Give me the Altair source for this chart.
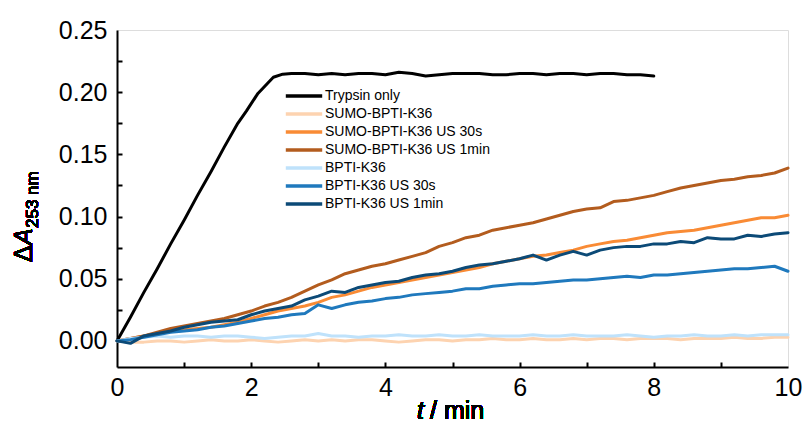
import altair as alt
import pandas as pd

series_names = [
    "Trypsin only",
    "SUMO-BPTI-K36",
    "SUMO-BPTI-K36 US 30s",
    "SUMO-BPTI-K36 US 1min",
    "BPTI-K36",
    "BPTI-K36 US 30s",
    "BPTI-K36 US 1min",
]
series_colors = ["#000000", "#fdd3b0", "#f98b35", "#b35c1e", "#bfe2fb", "#1f79bd", "#0c4a77"]

t_common = [round(0.2 * i, 1) for i in range(51)]

trypsin_t = [0.0, 0.2, 0.4, 0.6, 0.8, 1.0, 1.2, 1.4, 1.6, 1.8, 1.93, 2.1, 2.33, 2.47,
             2.6, 2.8, 3.0, 3.2, 3.4, 3.6, 3.8, 4.0, 4.2, 4.4, 4.6, 4.8, 5.0, 5.2,
             5.4, 5.6, 5.8, 6.0, 6.2, 6.4, 6.6, 6.8, 7.0, 7.2, 7.4, 7.6, 7.8, 8.0]
trypsin_v = [0.000, 0.019, 0.039, 0.058, 0.078, 0.097, 0.117, 0.136, 0.156, 0.175, 0.185, 0.199, 0.212, 0.2145,
             0.215, 0.215, 0.214, 0.215, 0.214, 0.215, 0.215, 0.214, 0.216, 0.215, 0.213, 0.214, 0.215, 0.215,
             0.215, 0.214, 0.214, 0.215, 0.215, 0.214, 0.215, 0.215, 0.214, 0.215, 0.215, 0.214, 0.214, 0.213]

sumo_v = [0.000, -0.001, -0.001, 0.000, 0.000, -0.001, 0.000, 0.001, 0.000, 0.000,
          0.001, 0.000, -0.001, 0.000, 0.001, 0.000, 0.001, 0.000, 0.001, 0.001,
          0.000, -0.001, 0.000, 0.001, 0.001, 0.000, 0.001, 0.001, 0.002, 0.001,
          0.001, 0.002, 0.001, 0.001, 0.002, 0.001, 0.002, 0.002, 0.001, 0.002,
          0.002, 0.002, 0.001, 0.002, 0.002, 0.002, 0.003, 0.002, 0.002, 0.003, 0.003]

sumo_30s_v = [0.000, 0.002, 0.004, 0.006, 0.008, 0.009, 0.010, 0.011, 0.013, 0.015,
              0.018, 0.021, 0.024, 0.026, 0.028, 0.031, 0.035, 0.037, 0.040, 0.043,
              0.045, 0.047, 0.049, 0.051, 0.053, 0.055, 0.057, 0.059, 0.062, 0.064,
              0.066, 0.068, 0.069, 0.071, 0.073, 0.076, 0.078, 0.080, 0.081, 0.083,
              0.085, 0.087, 0.088, 0.089, 0.091, 0.093, 0.095, 0.097, 0.099, 0.099, 0.101]

sumo_1min_v = [0.000, 0.002, 0.004, 0.007, 0.010, 0.012, 0.014, 0.016, 0.018, 0.021,
               0.024, 0.028, 0.031, 0.035, 0.040, 0.045, 0.049, 0.054, 0.057, 0.060,
               0.062, 0.065, 0.068, 0.071, 0.076, 0.079, 0.083, 0.085, 0.089, 0.091,
               0.093, 0.095, 0.098, 0.101, 0.104, 0.106, 0.107, 0.112, 0.113, 0.115,
               0.117, 0.120, 0.123, 0.125, 0.127, 0.129, 0.130, 0.132, 0.133, 0.135, 0.139]

bpti_v = [0.000, 0.002, 0.003, 0.004, 0.003, 0.004, 0.004, 0.003, 0.004, 0.004,
          0.003, 0.002, 0.003, 0.004, 0.004, 0.006, 0.004, 0.004, 0.003, 0.004,
          0.004, 0.005, 0.004, 0.004, 0.005, 0.004, 0.004, 0.005, 0.004, 0.004,
          0.004, 0.005, 0.004, 0.004, 0.005, 0.004, 0.004, 0.004, 0.005, 0.004,
          0.003, 0.004, 0.004, 0.005, 0.004, 0.004, 0.005, 0.004, 0.005, 0.005, 0.005]

bpti_30s_v = [0.000, 0.001, 0.003, 0.005, 0.007, 0.008, 0.009, 0.011, 0.012, 0.014,
              0.016, 0.018, 0.019, 0.021, 0.022, 0.029, 0.026, 0.029, 0.031, 0.032,
              0.034, 0.035, 0.037, 0.038, 0.039, 0.040, 0.042, 0.042, 0.044, 0.045,
              0.046, 0.046, 0.047, 0.048, 0.049, 0.049, 0.050, 0.051, 0.052, 0.051,
              0.053, 0.053, 0.054, 0.055, 0.056, 0.057, 0.058, 0.058, 0.059, 0.060, 0.056]

bpti_1min_v = [0.000, -0.002, 0.004, 0.006, 0.008, 0.011, 0.013, 0.015, 0.016, 0.017,
               0.021, 0.024, 0.026, 0.028, 0.033, 0.036, 0.040, 0.039, 0.043, 0.045,
               0.047, 0.048, 0.051, 0.053, 0.054, 0.056, 0.059, 0.061, 0.062, 0.064,
               0.066, 0.069, 0.065, 0.069, 0.072, 0.069, 0.073, 0.075, 0.076, 0.076,
               0.078, 0.078, 0.080, 0.079, 0.083, 0.082, 0.082, 0.085, 0.084, 0.086, 0.087]

y_tick_labels = [0.0, 0.05, 0.10, 0.15, 0.20, 0.25]
y_minor = [0.0, 0.025, 0.05, 0.075, 0.10, 0.125, 0.15, 0.175, 0.20, 0.225]
x_tick_labels = [0, 2, 4, 6, 8, 10]
x_minor = [1, 2, 3, 4, 5, 6, 7, 8, 9]

rows = []
for t, v in zip(trypsin_t, trypsin_v):
    rows.append({"series": series_names[0], "t": t, "v": v, "k": 0})
for k, vals in enumerate([sumo_v, sumo_30s_v, sumo_1min_v, bpti_v, bpti_30s_v, bpti_1min_v], start=1):
    for t, v in zip(t_common, vals):
        rows.append({"series": series_names[k], "t": t, "v": v, "k": k})
df = pd.DataFrame(rows)

FONT = "Liberation Sans"
W, H = 671, 337

xscale = alt.Scale(domain=[0, 10], nice=False, zero=False)
yscale = alt.Scale(domain=[-0.021, 0.25], nice=False, zero=False)

lines = alt.Chart(df).mark_line(strokeWidth=3, strokeJoin="round", strokeCap="round").encode(
    x=alt.X("t:Q", scale=xscale, axis=alt.Axis(
        values=x_tick_labels, title=None, tickSize=0, domain=True, domainColor="black",
        domainWidth=2, grid=False,
        labelFontSize=25, labelFont=FONT, labelColor="black", labelPadding=8,
        labelFlush=False, orient="bottom")),
    y=alt.Y("v:Q", scale=yscale, axis=alt.Axis(
        values=y_tick_labels, format=".2f", title=None, tickSize=0, domain=True,
        domainColor="black", domainWidth=2, grid=False,
        labelFontSize=25, labelFont=FONT, labelColor="black", labelPadding=10,
        orient="left")),
    color=alt.Color("series:N", scale=alt.Scale(domain=series_names, range=series_colors),
                    legend=alt.Legend(
                        title=None, orient="none", legendX=178, legendY=57,
                        symbolType="M-2.6,0H2.6", symbolSize=196, symbolStrokeWidth=3.5,
                        labelFontSize=14, labelFont=FONT, labelColor="black",
                        labelFontWeight="normal", labelLimit=400,
                        labelOffset=12, rowPadding=2, padding=0)),
    order=alt.Order("k:Q"),
)

ticks = alt.Chart(df).mark_point(opacity=0).encode(
    x=alt.X("t:Q", scale=xscale, axis=alt.Axis(
        values=x_minor, labels=False, title=None, tickSize=5, tickWidth=2, tickColor="black",
        domain=False, grid=False, offset=-5, orient="bottom")),
    y=alt.Y("v:Q", scale=yscale, axis=alt.Axis(
        values=y_minor, labels=False, title=None, tickSize=5, tickWidth=2, tickColor="black",
        domain=False, grid=False, offset=-5, orient="left")),
)

xt1 = alt.Chart(df).mark_text(text="t", font=FONT, fontSize=25, fontStyle="italic",
                              align="left", baseline="alphabetic", color="black").encode(
    x=alt.value(300), y=alt.value(389))
xt2 = alt.Chart(df).mark_text(text="/ min", font=FONT, fontSize=25,
                              align="left", baseline="alphabetic", color="black").encode(
    x=alt.value(313), y=alt.value(389))
yt1 = alt.Chart(df).mark_text(text="Δ", font=FONT, fontSize=25, angle=270,
                              align="left", baseline="alphabetic", color="black").encode(
    x=alt.value(-85), y=alt.value(232))
yt2 = alt.Chart(df).mark_text(text="A", font=FONT, fontSize=25, fontStyle="italic", angle=270,
                              align="left", baseline="alphabetic", color="black").encode(
    x=alt.value(-85), y=alt.value(215))
yt3 = alt.Chart(df).mark_text(text="253 nm", font=FONT, fontSize=17, angle=270,
                              align="left", baseline="alphabetic", color="black").encode(
    x=alt.value(-79), y=alt.value(198))

chart = alt.layer(lines, ticks, xt1, xt2, yt1, yt2, yt3).resolve_axis(
    x="independent", y="independent"
).properties(
    width=W, height=H,
    padding={"left": 117, "top": 30, "right": 20, "bottom": 56},
    autosize=alt.AutoSizeParams(type="none"),
).configure_view(stroke="black", strokeWidth=2).configure(background="white")

chart.save("out.html", embed_options={"renderer": "svg", "actions": False})
